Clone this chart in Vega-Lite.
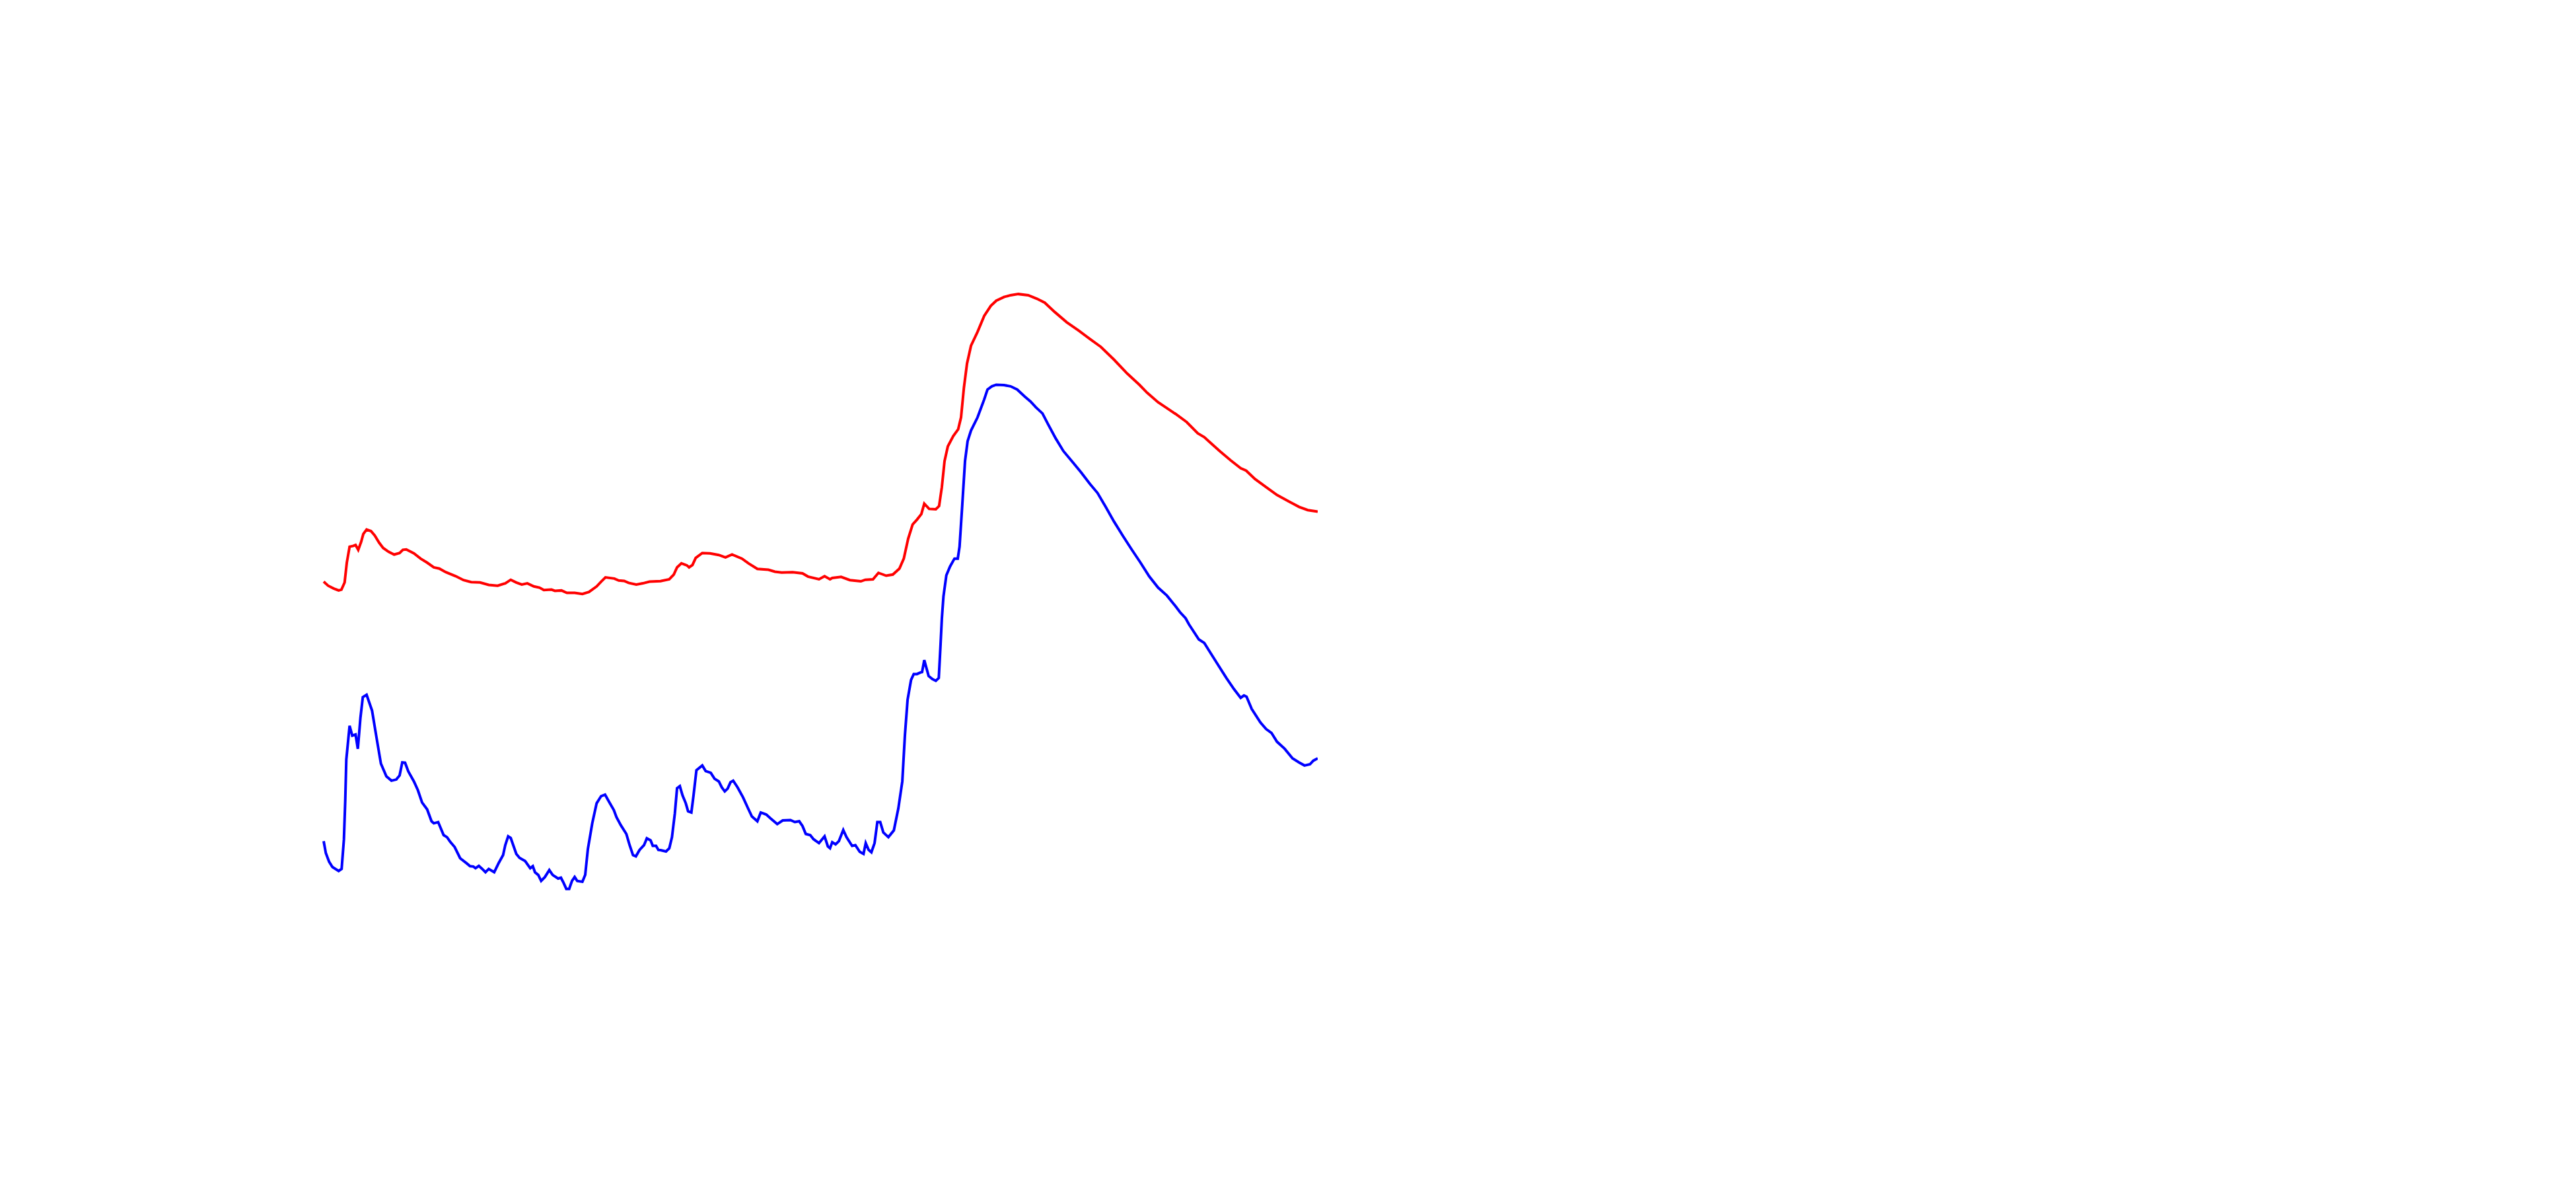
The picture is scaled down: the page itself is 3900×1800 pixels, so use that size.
{
  "$schema": "https://vega.github.io/schema/vega-lite/v6.json",
  "autosize": {"type": "none"},
  "padding": {"left": 490, "top": 0, "right": 0, "bottom": 0},
  "width": 1505,
  "height": 1800,
  "background": "white",
  "config": {"view": {"stroke": null}},
  "datasets": {
    "red": [
      {"t":0,"v":51.08},{"t":0.45,"v":50.74},{"t":1.0,"v":50.51},{"t":1.51,"v":50.34},{"t":1.79,"v":50.41},{"t":2.11,"v":51.01},{"t":2.33,"v":52.68},{"t":2.61,"v":54.02},{"t":2.99,"v":54.09},{"t":3.21,"v":54.17},{"t":3.48,"v":53.76},{"t":3.77,"v":54.42},{"t":3.99,"v":55.09},{"t":4.32,"v":55.46},{"t":4.76,"v":55.33},{"t":5.14,"v":54.96},{"t":5.58,"v":54.36},{"t":5.98,"v":53.92},{"t":6.53,"v":53.59},{"t":7.09,"v":53.36},{"t":7.64,"v":53.49},{"t":7.97,"v":53.76},{"t":8.31,"v":53.79},{"t":9.08,"v":53.46},{"t":9.75,"v":53.02},{"t":10.41,"v":52.68},{"t":11.08,"v":52.28},{"t":11.63,"v":52.18},{"t":12.29,"v":51.88},{"t":13.29,"v":51.54},{"t":14.07,"v":51.21},{"t":14.84,"v":51.04},{"t":15.73,"v":51.01},{"t":16.61,"v":50.81},{"t":17.5,"v":50.74},{"t":18.27,"v":50.94},{"t":18.82,"v":51.24},{"t":19.38,"v":51.01},{"t":19.93,"v":50.84},{"t":20.49,"v":50.94},{"t":21.15,"v":50.68},{"t":21.71,"v":50.58},{"t":22.15,"v":50.37},{"t":22.92,"v":50.41},{"t":23.26,"v":50.31},{"t":23.92,"v":50.34},{"t":24.47,"v":50.14},{"t":25.25,"v":50.14},{"t":26.03,"v":50.04},{"t":26.69,"v":50.21},{"t":27.46,"v":50.68},{"t":27.91,"v":51.08},{"t":28.35,"v":51.44},{"t":29.24,"v":51.34},{"t":29.68,"v":51.18},{"t":30.23,"v":51.14},{"t":30.68,"v":50.98},{"t":31.45,"v":50.84},{"t":32.11,"v":50.94},{"t":32.78,"v":51.08},{"t":33.89,"v":51.13},{"t":34.77,"v":51.28},{"t":35.22,"v":51.68},{"t":35.55,"v":52.28},{"t":35.99,"v":52.62},{"t":36.54,"v":52.45},{"t":36.76,"v":52.28},{"t":37.1,"v":52.48},{"t":37.43,"v":53.08},{"t":38.09,"v":53.49},{"t":38.87,"v":53.46},{"t":39.75,"v":53.32},{"t":40.42,"v":53.12},{"t":41.08,"v":53.36},{"t":42.08,"v":53.02},{"t":42.74,"v":52.62},{"t":43.63,"v":52.15},{"t":44.74,"v":52.08},{"t":45.4,"v":51.92},{"t":46.07,"v":51.85},{"t":47.18,"v":51.88},{"t":48.17,"v":51.78},{"t":48.72,"v":51.51},{"t":49.83,"v":51.28},{"t":50.39,"v":51.54},{"t":50.94,"v":51.28},{"t":51.16,"v":51.39},{"t":52.05,"v":51.48},{"t":52.94,"v":51.21},{"t":54.04,"v":51.11},{"t":54.49,"v":51.24},{"t":55.26,"v":51.28},{"t":55.81,"v":51.82},{"t":56.59,"v":51.58},{"t":57.26,"v":51.68},{"t":57.92,"v":52.18},{"t":58.36,"v":53.02},{"t":58.8,"v":54.69},{"t":59.25,"v":55.89},{"t":59.69,"v":56.3},{"t":60.13,"v":56.77},{"t":60.42,"v":57.64},{"t":60.91,"v":57.2},{"t":61.58,"v":57.17},{"t":61.91,"v":57.44},{"t":62.19,"v":59.04},{"t":62.46,"v":61.22},{"t":62.79,"v":62.46},{"t":63.34,"v":63.33},{"t":63.83,"v":63.89},{"t":64.12,"v":64.9},{"t":64.41,"v":67.41},{"t":64.72,"v":69.42},{"t":65.12,"v":70.92},{"t":65.78,"v":72.09},{"t":66.45,"v":73.43},{"t":67.11,"v":74.27},{"t":67.66,"v":74.71},{"t":68.44,"v":75.02},{"t":69.1,"v":75.17},{"t":69.88,"v":75.27},{"t":70.88,"v":75.17},{"t":71.76,"v":74.87},{"t":72.54,"v":74.54},{"t":73.53,"v":73.77},{"t":74.75,"v":72.9},{"t":75.97,"v":72.19},{"t":77.08,"v":71.49},{"t":78.19,"v":70.82},{"t":79.51,"v":69.75},{"t":80.84,"v":68.58},{"t":82.06,"v":67.64},{"t":82.84,"v":66.97},{"t":83.94,"v":66.17},{"t":84.83,"v":65.67},{"t":85.71,"v":65.18},{"t":86.82,"v":64.5},{"t":87.93,"v":63.56},{"t":88.59,"v":63.23},{"t":89.04,"v":62.89},{"t":90.15,"v":62.06},{"t":91.25,"v":61.28},{"t":92.25,"v":60.62},{"t":92.8,"v":60.42},{"t":93.69,"v":59.71},{"t":94.8,"v":59.04},{"t":95.9,"v":58.37},{"t":97.23,"v":57.77},{"t":98.12,"v":57.37},{"t":99.0,"v":57.1},{"t":100.0,"v":56.97}
    ],
    "blue": [
      {"t":0,"v":29.26},{"t":0.22,"v":28.25},{"t":0.55,"v":27.52},{"t":0.88,"v":27.08},{"t":1.51,"v":26.75},{"t":1.81,"v":26.92},{"t":2.04,"v":29.42},{"t":2.17,"v":32.61},{"t":2.28,"v":36.12},{"t":2.61,"v":38.96},{"t":2.88,"v":38.13},{"t":3.21,"v":38.23},{"t":3.44,"v":37.02},{"t":3.7,"v":39.63},{"t":3.94,"v":41.37},{"t":4.32,"v":41.57},{"t":4.87,"v":40.23},{"t":5.32,"v":37.96},{"t":5.76,"v":35.78},{"t":6.31,"v":34.71},{"t":6.82,"v":34.34},{"t":7.31,"v":34.44},{"t":7.64,"v":34.78},{"t":7.91,"v":35.88},{"t":8.19,"v":35.85},{"t":8.52,"v":35.11},{"t":9.08,"v":34.28},{"t":9.48,"v":33.54},{"t":9.9,"v":32.51},{"t":10.41,"v":31.93},{"t":10.85,"v":30.93},{"t":11.08,"v":30.76},{"t":11.52,"v":30.86},{"t":12.07,"v":29.76},{"t":12.41,"v":29.59},{"t":12.74,"v":29.19},{"t":13.18,"v":28.76},{"t":13.73,"v":27.82},{"t":14.4,"v":27.38},{"t":14.73,"v":27.15},{"t":15.06,"v":27.12},{"t":15.28,"v":26.98},{"t":15.61,"v":27.18},{"t":15.95,"v":26.92},{"t":16.28,"v":26.64},{"t":16.61,"v":26.92},{"t":17.16,"v":26.64},{"t":17.61,"v":27.42},{"t":18.05,"v":28.08},{"t":18.27,"v":28.92},{"t":18.56,"v":29.66},{"t":18.82,"v":29.52},{"t":19.38,"v":28.18},{"t":19.71,"v":27.85},{"t":20.27,"v":27.58},{"t":20.78,"v":26.98},{"t":21.04,"v":27.15},{"t":21.26,"v":26.64},{"t":21.59,"v":26.41},{"t":21.88,"v":25.91},{"t":22.26,"v":26.24},{"t":22.7,"v":26.82},{"t":23.04,"v":26.41},{"t":23.59,"v":26.11},{"t":23.87,"v":26.18},{"t":24.14,"v":25.74},{"t":24.41,"v":25.24},{"t":24.7,"v":25.24},{"t":24.98,"v":25.91},{"t":25.25,"v":26.24},{"t":25.51,"v":25.91},{"t":26.03,"v":25.84},{"t":26.31,"v":26.41},{"t":26.58,"v":28.59},{"t":27.02,"v":30.76},{"t":27.46,"v":32.44},{"t":27.91,"v":33.04},{"t":28.31,"v":33.17},{"t":28.68,"v":32.61},{"t":29.19,"v":31.87},{"t":29.46,"v":31.27},{"t":29.9,"v":30.59},{"t":30.45,"v":29.86},{"t":30.78,"v":28.92},{"t":31.12,"v":28.08},{"t":31.41,"v":27.98},{"t":31.78,"v":28.52},{"t":32.23,"v":28.92},{"t":32.51,"v":29.49},{"t":32.89,"v":29.32},{"t":33.11,"v":28.86},{"t":33.44,"v":28.86},{"t":33.67,"v":28.52},{"t":33.89,"v":28.5},{"t":34.44,"v":28.39},{"t":34.77,"v":28.66},{"t":35.04,"v":29.59},{"t":35.33,"v":31.6},{"t":35.55,"v":33.71},{"t":35.83,"v":33.88},{"t":36.1,"v":33.11},{"t":36.43,"v":32.44},{"t":36.66,"v":31.77},{"t":36.99,"v":31.67},{"t":37.21,"v":33.11},{"t":37.5,"v":35.22},{"t":38.09,"v":35.62},{"t":38.43,"v":35.15},{"t":38.94,"v":35.01},{"t":39.32,"v":34.51},{"t":39.75,"v":34.28},{"t":40.05,"v":33.78},{"t":40.35,"v":33.44},{"t":40.64,"v":33.67},{"t":40.93,"v":34.21},{"t":41.2,"v":34.34},{"t":41.64,"v":33.78},{"t":42.19,"v":32.94},{"t":42.74,"v":31.93},{"t":43.08,"v":31.33},{"t":43.63,"v":30.93},{"t":43.97,"v":31.67},{"t":44.52,"v":31.5},{"t":44.96,"v":31.17},{"t":45.63,"v":30.69},{"t":46.18,"v":31.0},{"t":46.96,"v":31.03},{"t":47.4,"v":30.86},{"t":47.84,"v":30.93},{"t":48.17,"v":30.53},{"t":48.5,"v":29.86},{"t":48.95,"v":29.76},{"t":49.28,"v":29.42},{"t":49.83,"v":29.09},{"t":50.39,"v":29.66},{"t":50.72,"v":28.82},{"t":50.94,"v":28.66},{"t":51.16,"v":29.17},{"t":51.5,"v":28.99},{"t":51.83,"v":29.26},{"t":52.27,"v":30.19},{"t":52.6,"v":29.59},{"t":53.16,"v":28.86},{"t":53.49,"v":28.92},{"t":53.93,"v":28.36},{"t":54.31,"v":28.18},{"t":54.53,"v":29.09},{"t":54.82,"v":28.52},{"t":55.1,"v":28.32},{"t":55.42,"v":29.09},{"t":55.7,"v":30.86},{"t":55.99,"v":30.86},{"t":56.3,"v":29.99},{"t":56.81,"v":29.59},{"t":57.36,"v":30.16},{"t":57.81,"v":32.0},{"t":58.21,"v":34.28},{"t":58.47,"v":38.13},{"t":58.74,"v":41.14},{"t":59.09,"v":42.81},{"t":59.36,"v":43.31},{"t":59.69,"v":43.31},{"t":60.02,"v":43.44},{"t":60.2,"v":43.48},{"t":60.42,"v":44.48},{"t":60.86,"v":43.14},{"t":61.24,"v":42.88},{"t":61.58,"v":42.74},{"t":61.88,"v":42.98},{"t":62.06,"v":45.82},{"t":62.19,"v":48.0},{"t":62.35,"v":49.84},{"t":62.64,"v":51.61},{"t":63.01,"v":52.35},{"t":63.46,"v":53.02},{"t":63.79,"v":53.02},{"t":63.97,"v":54.02},{"t":64.23,"v":57.37},{"t":64.52,"v":61.22},{"t":64.78,"v":62.89},{"t":65.12,"v":63.79},{"t":65.78,"v":64.9},{"t":66.45,"v":66.41},{"t":66.78,"v":67.24},{"t":67.22,"v":67.51},{"t":67.66,"v":67.64},{"t":68.44,"v":67.61},{"t":69.1,"v":67.51},{"t":69.77,"v":67.24},{"t":70.54,"v":66.64},{"t":71.1,"v":66.24},{"t":71.65,"v":65.74},{"t":72.31,"v":65.23},{"t":72.87,"v":64.33},{"t":73.64,"v":63.13},{"t":74.42,"v":62.06},{"t":75.3,"v":61.18},{"t":76.19,"v":60.28},{"t":77.08,"v":59.31},{"t":77.85,"v":58.54},{"t":78.62,"v":57.44},{"t":79.51,"v":56.13},{"t":80.4,"v":54.93},{"t":81.28,"v":53.79},{"t":82.17,"v":52.68},{"t":83.06,"v":51.51},{"t":83.94,"v":50.58},{"t":84.83,"v":49.91},{"t":85.71,"v":49.0},{"t":86.16,"v":48.5},{"t":86.71,"v":48.0},{"t":87.04,"v":47.5},{"t":88.04,"v":46.22},{"t":88.59,"v":45.92},{"t":89.04,"v":45.32},{"t":89.92,"v":44.15},{"t":90.81,"v":42.98},{"t":91.58,"v":42.04},{"t":92.25,"v":41.31},{"t":92.58,"v":41.51},{"t":92.84,"v":41.41},{"t":93.36,"v":40.37},{"t":94.24,"v":39.23},{"t":94.8,"v":38.69},{"t":95.35,"v":38.36},{"t":95.9,"v":37.62},{"t":96.68,"v":37.02},{"t":97.46,"v":36.22},{"t":98.12,"v":35.88},{"t":98.67,"v":35.62},{"t":99.22,"v":35.72},{"t":99.55,"v":36.02},{"t":100.0,"v":36.22}
    ]
  },
  "encoding": {
    "x": {"field": "t", "type": "quantitative", "scale": {"domain": [0, 100], "nice": false, "zero": false}, "axis": null},
    "y": {"field": "v", "type": "quantitative", "scale": {"domain": [0, 100], "nice": false, "zero": false}, "axis": null}
  },
  "layer": [
    {"data": {"name": "red"}, "mark": {"type": "line", "color": "#ff0000", "strokeWidth": 4, "clip": false}},
    {"data": {"name": "blue"}, "mark": {"type": "line", "color": "#0000ff", "strokeWidth": 4, "clip": false}}
  ]
}
